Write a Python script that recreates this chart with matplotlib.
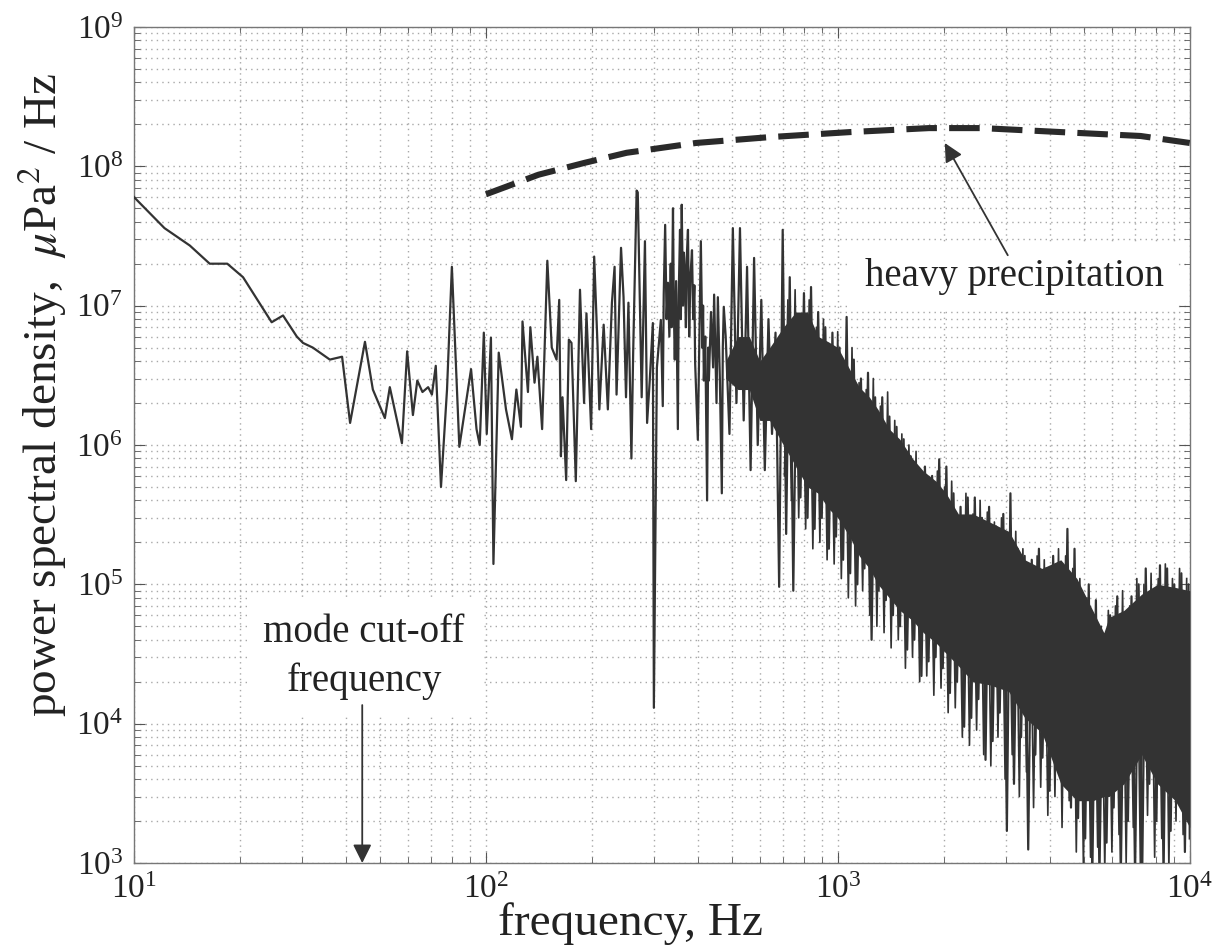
import matplotlib
matplotlib.use("Agg")
import matplotlib.pyplot as plt
import numpy as np
from matplotlib.ticker import LogLocator, LogFormatterMathtext, NullFormatter

plt.rcParams["font.family"] = ["Liberation Serif", "DejaVu Serif"]
plt.rcParams["mathtext.fontset"] = "stix"

# --- measured spectrum, low/mid frequency part (single trace) ---
trace_freq = [
    10, 12.2, 14.4, 16.4, 18.4, 20.4, 24.6, 26.5, 29.0, 30.2, 32.2, 36.0, 39.0,
    41.1, 45.3, 47.7, 51.6, 53.3, 57.7, 59.7, 62.0, 63.8, 66.0, 68.5, 70.2,
    72.0, 74.5, 77.5, 80.0, 84.0, 90.7, 94.0, 96.0, 98.6, 100.5, 103.3, 105.0,
    108.7, 114, 118.5, 122, 125.7, 127, 131.6, 133.7, 137.4, 140, 144.4,
    149.4, 153.8, 158.7, 161.5, 163.3, 165, 169, 172, 175, 180, 185, 190, 193,
    199, 203, 207.6, 210, 216, 222, 228, 232, 235, 242, 246, 250, 254, 259,
    262, 268, 270, 277, 283, 287, 292, 298, 300, 306, 314, 318,
    320, 323, 326, 329, 332, 335, 337, 340, 342, 344, 347, 351, 353, 356, 358,
    360, 363, 365, 367, 370, 372, 375, 378, 381, 385, 388, 391, 393, 400,
    408, 412, 414, 416, 420, 425, 428, 430, 436, 442, 445, 448, 452, 456, 462,
    468, 471, 474,
]
trace_psd = [
    6.0e7, 3.6e7, 2.7e7, 2.0e7, 2.0e7, 1.6e7, 7.6e6, 8.5e6, 6.0e6, 5.4e6, 5.0e6, 4.1e6, 4.3e6,
    1.44e6, 5.5e6, 2.5e6, 1.56e6, 2.6e6, 1.03e6, 4.7e6, 1.64e6, 2.9e6, 2.4e6, 2.6e6, 2.3e6,
    3.7e6, 5.0e5, 2.5e6, 1.9e7, 9.7e5, 3.5e6, 1.3e6, 1.0e6, 6.4e6, 1.2e6, 5.9e6, 1.4e5,
    4.6e6, 1.8e6, 1.1e6, 2.5e6, 1.35e6, 7.7e6, 2.4e6, 7.0e6, 2.8e6, 4.3e6, 1.3e6,
    2.1e7, 5.0e6, 4.1e6, 1.1e7, 8.3e5, 2.2e6, 5.6e5, 5.7e6, 5.4e6, 5.5e5, 1.3e7, 2.0e6, 8.8e6,
    1.3e6, 2.25e7, 5.0e6, 1.8e6, 7.3e6, 1.8e6, 1.05e7, 1.9e7, 2.3e6, 2.6e7, 1.15e7, 2.2e6, 1.05e7, 8.0e5,
    4.6e6, 6.7e7, 6.5e7, 2.2e6, 2.9e7, 1.44e6, 2.9e6, 7.5e6, 1.3e4, 3.6e6, 7.9e6, 1.9e6,
    1.2e7, 3.8e7, 8e6, 1.46e7, 6e6, 2.0e7, 7e6, 5.0e7, 9e6, 4.1e6, 1.5e7, 1.3e6, 1.2e7, 3.5e7, 8e6,
    5.3e7, 1.0e7, 2.4e7, 1.8e7, 7e6, 2.2e7, 3.5e7, 6e6, 1.6e7, 2.5e7, 8e6, 1.4e7, 3.9e6, 1.09e6,
    2.9e7, 5e6, 1.0e7, 2.9e6, 6e6, 4.0e5, 5e6, 2.9e6, 9e6, 3.6e6, 1.2e7, 5.7e6, 2.0e6, 1.15e7, 3e6,
    4.5e5, 5e6, 9.8e6,
]

# --- dense high-frequency part: trace swinging between peaks and dips ---
dense_freq = [
    480, 492, 503, 515, 527, 540, 552, 565, 578, 592, 606, 620, 635, 650, 665,
    681, 697, 713, 730, 747, 765, 783, 801, 820, 839, 859, 879, 900, 921, 943,
    965, 988, 1011, 1035, 1059, 1084, 1110, 1136, 1163, 1190, 1218, 1247, 1276,
    1306, 1337, 1369, 1401, 1434, 1468, 1502, 1538, 1574, 1611, 1649, 1688, 1728,
    1768, 1810, 1853, 1896, 1941, 1987, 2034, 2082, 2131, 2181, 2232, 2285, 2339,
    2394, 2450, 2508, 2567, 2628, 2690, 2753, 2818, 2884, 2952, 3022, 3093, 3166,
    3241, 3317, 3395, 3475, 3557, 3641, 3727, 3815, 3905, 3997, 4091, 4188, 4286,
    4387, 4491, 4597, 4705, 4816, 4929, 5045, 5164, 5286, 5411, 5538, 5669, 5802,
    5939, 6079, 6223, 6369, 6520, 6673, 6831, 6992, 7157, 7325, 7498, 7675, 7856,
    8041, 8230, 8425, 8623, 8826, 9034, 9247, 9465, 9688, 9916, 10000,
]
dense_psd = [
    6e6, 1.2e6, 3.6e7, 2.0e6, 3.6e7, 1.5e6, 1.9e7, 6.6e5, 2.2e7, 1.0e6, 1.1e7, 6.6e5, 8e6, 1.2e6, 6.4e6,
    9.6e4, 3.5e7, 2.3e5, 1.6e7, 9.0e4, 8.3e6, 4.2e5, 1.23e7, 3.0e5, 1.36e7, 2.5e5, 9e6, 3.0e5, 7.0e6, 1.8e5,
    6.4e6, 2.2e5, 5e6, 1.5e5, 8.3e6, 1.2e5, 4.1e6, 1.0e5, 3.0e6, 1.3e5, 3.3e6, 4.0e4, 2.2e6,
    9e4, 2.2e6, 7.7e4, 1.6e6, 6e4, 1.35e6, 5e4, 1.1e6, 3.4e4, 8.3e5, 4e4, 6e5, 2.2e4,
    7e5, 2.8e4, 6e5, 3e4, 7.9e5, 2.5e4, 7.0e5, 1.66e4, 4.5e5, 2.0e4, 3.6e5, 9.5e3, 4.2e5,
    1.1e4, 4.2e5, 1.5e4, 3.0e5, 5.5e3, 3.6e5, 7.5e3, 2.6e5, 1.2e4, 3.2e5, 1.7e3, 4.5e5, 3.7e3,
    1.8e5, 8e3, 1.6e5, 1.25e3, 1.5e5, 6e3, 1.8e5, 5.7e3, 1.3e5, 3.3e3, 1.6e5, 6.5e3, 1.4e5,
    4e3, 2.5e5, 2.5e3, 1.8e5, 2.1e3, 8e4, 1.5e3, 1.0e5, 8e2, 7.7e4, 8e2, 4.0e4, 1.4e3,
    6e4, 2.5e3, 8.2e4, 8e2, 6e4, 2e3, 8.2e4, 8e2, 1.0e5, 8e2, 1.3e5, 3.7e3, 9e4,
    2e3, 1.37e5, 8e2, 1.3e5, 1.7e3, 1.0e5, 2.8e3, 1.2e5, 1.2e3, 1.0e5, 1.5e3,
]

# finer wiggles in between the points above (same record)
fine_freq = [
    705, 721, 738, 756, 774, 792, 810, 829, 849, 869, 889, 910, 932, 954, 976,
    999, 1023, 1047, 1071, 1097, 1123, 1149, 1176, 1204, 1232, 1261, 1291, 1321,
    1353, 1385, 1417, 1451, 1485, 1520, 1556, 1592, 1630, 1668, 1708, 1748, 1789,
    1831, 1874, 1918, 1964, 2010, 2058, 2106, 2156, 2206, 2258, 2312, 2366, 2422,
    2479, 2537, 2597, 2659, 2721, 2785, 2851, 2918, 2987, 3057, 3129, 3203, 3279,
    3356, 3435, 3516, 3599, 3684, 3771, 3860, 3951, 4044, 4139, 4237, 4336, 4439,
    4544, 4651, 4760, 4872, 4987, 5104, 5225, 5348, 5474, 5603, 5735, 5870, 6009,
    6150, 6296, 6444, 6596, 6752, 6911, 7074, 7241, 7411, 7586, 7765, 7948, 8135,
    8327, 8524, 8724, 8930, 9140, 9355, 9576, 9802,
]
fine_psd = [
    6e5, 1.1e7, 4e5, 1.3e7, 3e5, 7e6, 2.5e5, 1.1e7, 1.8e5, 7e6, 2.0e5, 8e6, 1.5e5, 4.5e6, 1.4e5,
    6.5e6, 1.1e5, 4e6, 8e4, 5e6, 7e4, 2.8e6, 9e4, 2.5e6, 6e4, 3e6, 5e4, 1.9e6,
    4.5e4, 2.4e6, 3.5e4, 1.5e6, 4e4, 1.2e6, 2.5e4, 1.0e6, 3e4, 9e5, 2.0e4, 6e5, 2.2e4,
    5e5, 1.6e4, 6.5e5, 1.8e4, 5e5, 1.2e4, 5.5e5, 1.3e4, 3e5, 8e3, 4.5e5, 7e3, 3.2e5,
    9e3, 4e5, 6e3, 3.3e5, 5e3, 2.8e5, 8e3, 3e5, 4e3, 2.2e5, 6e3, 2.4e5, 3e3,
    1.8e5, 4.5e3, 1.4e5, 2.5e3, 1.6e5, 3.5e3, 1.5e5, 2.2e3, 1.2e5, 3e3, 1.8e5, 1.8e3, 1.6e5,
    2.8e3, 1.3e5, 1.2e3, 1.1e5, 9e2, 8e4, 1.1e3, 6e4, 1.3e3, 5e4, 9e2, 6.5e4, 1.2e3,
    7e4, 1.6e3, 9e4, 1.0e3, 7e4, 1.8e3, 1.1e5, 9e2, 1.0e5, 2.2e3, 1.2e5, 1.1e3, 1.1e5,
    1.5e3, 1.4e5, 9e2, 1.1e5, 2.0e3, 1.3e5, 1.6e3, 1.1e5,
]

# solid core of the dense part
band_freq = [480, 520, 560, 600, 640, 700, 760, 820, 880, 940, 1000, 1080, 1150, 1230,
             1300, 1400, 1500, 1630, 1750, 1900, 2030, 2200, 2420, 2700, 3060, 3400,
             3800, 4300, 4780, 5300, 5700, 5900, 6500, 7300, 8100, 9100, 10000]
band_lo = [3e6, 2.5e6, 2.5e6, 1.5e6, 1.5e6, 1e6, 7e5, 5e5, 4.5e5, 3.5e5, 3e5, 2.2e5, 1.6e5,
           1.3e5, 1.0e5, 8e4, 6.5e4, 5.5e4, 4.5e4, 3.8e4, 3.2e4, 2.6e4, 2.0e4, 1.9e4, 1.7e4,
           1.1e4, 8.6e3, 3.7e3, 2.8e3, 2.8e3, 3.0e3, 3.0e3, 3.7e3, 6.0e3, 3.7e3, 2.8e3, 1.8e3]
band_hi = [4e6, 6e6, 6e6, 4e6, 5e6, 7e6, 9e6, 9e6, 6e6, 5.5e6, 5e6, 3.5e6, 2.6e6, 2.2e6,
           1.8e6, 1.3e6, 1.1e6, 8e5, 6.5e5, 5.5e5, 4.5e5, 3.2e5, 3.2e5, 2.8e5, 2.4e5, 1.5e5,
           1.3e5, 1.5e5, 1.1e5, 6.5e4, 4.5e4, 5.8e4, 6.5e4, 8.5e4, 1.0e5, 9.5e4, 9.0e4]

# --- heavy precipitation reference curve ---
rain_freq = [100, 141, 191, 251, 395, 641, 1082, 1815, 2570, 4300, 7250, 10000]
rain_psd = [6.3e7, 8.7e7, 1.06e8, 1.25e8, 1.47e8, 1.62e8, 1.76e8, 1.88e8, 1.88e8,
            1.76e8, 1.65e8, 1.47e8]

INK = "#333333"
TXT = "#222222"

fig = plt.figure(figsize=(12.19, 9.49), dpi=100, facecolor="white")
ax = fig.add_axes([0.110, 0.0906, 0.866, 0.881])
ax.set_xscale("log")
ax.set_yscale("log")
ax.set_xlim(10, 1e4)
ax.set_ylim(1e3, 1e9)

ax.plot(trace_freq + dense_freq, trace_psd + dense_psd, color=INK, lw=1.6, zorder=3)
ax.plot(fine_freq, fine_psd, color=INK, lw=1.2, zorder=3)
ax.fill_between(band_freq, band_lo, band_hi, color=INK, lw=0, zorder=3)

ax.plot(rain_freq, rain_psd, color="#2a2a2a", lw=4.4, dashes=(5, 2),
        dash_capstyle="butt", zorder=4)

ax.grid(True, which="both", linestyle=(0, (1, 3)), linewidth=1.0, color="#a8a8a8", zorder=0)
ax.set_axisbelow(True)
ax.xaxis.set_major_locator(LogLocator(base=10, numticks=10))
ax.xaxis.set_minor_locator(LogLocator(base=10, subs=np.arange(2, 10), numticks=20))
ax.yaxis.set_major_locator(LogLocator(base=10, numticks=10))
ax.yaxis.set_minor_locator(LogLocator(base=10, subs=np.arange(2, 10), numticks=20))
ax.xaxis.set_major_formatter(LogFormatterMathtext())
ax.yaxis.set_major_formatter(LogFormatterMathtext())
ax.xaxis.set_minor_formatter(NullFormatter())
ax.yaxis.set_minor_formatter(NullFormatter())
ax.tick_params(which="both", direction="in", top=True, right=True, colors="#555555",
               labelcolor=TXT)
ax.tick_params(which="major", length=8, labelsize=24)
ax.tick_params(which="minor", length=4)
ax.tick_params(axis="x", which="major", pad=8)
ax.tick_params(axis="y", which="major", pad=8)
for s in ax.spines.values():
    s.set_color("#777777")
    s.set_linewidth(1.0)

ax.set_xlabel("frequency, Hz", fontsize=34, color=TXT)
ax.set_ylabel(r"power spectral density,  $\mu$Pa$^2$ / Hz", fontsize=34, color=TXT)
ax.xaxis.set_label_coords(0.47, -0.047)
ax.yaxis.set_label_coords(-0.062, 0.56)

arrow = dict(arrowstyle="-|>", mutation_scale=28, lw=1.3, color=INK, shrinkA=0, shrinkB=0)

ax.text(3185, 1.63e7, "heavy precipitation", ha="center", va="center", fontsize=28,
        color=TXT, bbox=dict(facecolor="white", edgecolor="none", pad=10), zorder=5)
ax.annotate("", xy=(2013, 1.47e8), xytext=(3040, 2.3e7), arrowprops=arrow, zorder=5)

ax.text(45.0, 3.0e4, "mode cut-off\nfrequency", ha="center", va="center", fontsize=28,
        color=TXT, bbox=dict(facecolor="white", edgecolor="none", pad=12),
        linespacing=1.42, zorder=5)
ax.annotate("", xy=(44.5, 1.0e3), xytext=(44.5, 1.36e4), arrowprops=arrow, zorder=5)

fig.savefig("out.png", dpi=100, facecolor="white")
